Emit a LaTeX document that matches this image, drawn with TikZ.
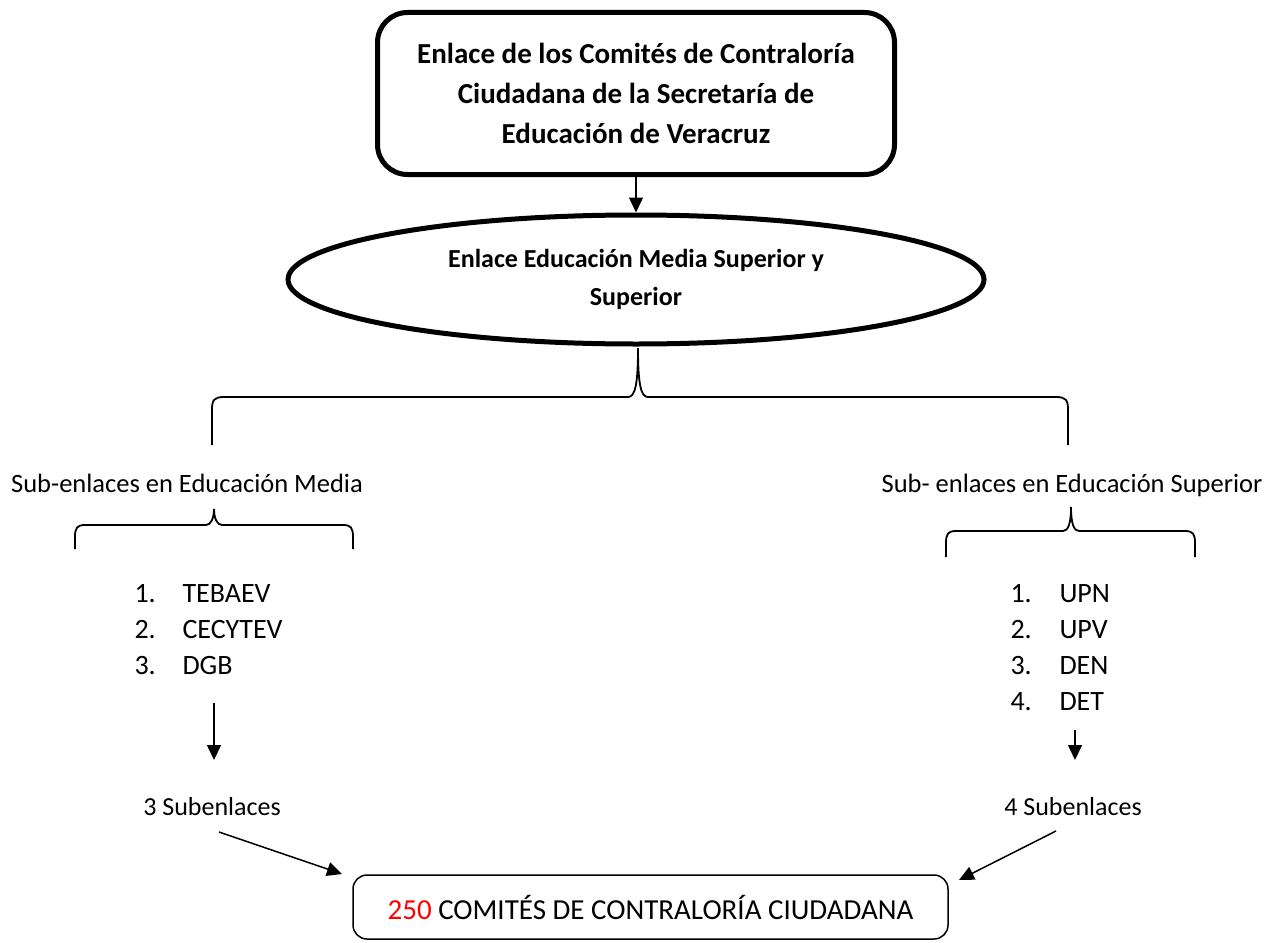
\documentclass[tikz,border=0pt]{standalone}
\usepackage{fontspec}
\setmainfont{Carlito}
\usetikzlibrary{shapes.geometric,arrows.meta}

\begin{document}
\begin{tikzpicture}[x=1pt,y=-1pt,
  arr/.style={line width=1.5pt,-{Triangle[length=15pt,width=14pt]}},
  brc/.style={line width=1.8pt},
  lbl/.style={font=\fontsize{26.5}{32}\selectfont,anchor=base},
  lst/.style={font=\fontsize{28}{36}\selectfont,align=left,anchor=west}]
  \useasboundingbox (0,0) rectangle (1271,942);
  % top of the chart
  \node[draw,line width=5pt,rounded corners=30pt,minimum width=517pt,minimum height=162pt,align=center,font=\bfseries\fontsize{29}{40}\selectfont] (top) at (636,93.5) {Enlace de los Comités de Contraloría\\Ciudadana de la Secretaría de\\Educación de Veracruz};
  \node[draw,ellipse,line width=5pt,minimum width=696pt,minimum height=129pt,inner sep=0pt,align=center,font=\bfseries\fontsize{26}{38}\selectfont] (ell) at (636,279.5) {Enlace Educación Media Superior y\\Superior};
  \draw[arr] (top.south) -- (ell.north);
  % big brace
  \draw[brc] (212,445) -- (212,410) .. controls (212,400) and (214,397) .. (224,397) -- (628,397) .. controls (635,397) and (638,385) .. (638,348) .. controls (638,385) and (641,397) .. (648,397) -- (1056,397) .. controls (1066,397) and (1068,400) .. (1068,410) -- (1068,445);
  % two branches
  \node[lbl] (media) at (187,492) {Sub-enlaces en Educación Media};
  \node[lbl] (sup) at (1072,492) {Sub- enlaces en Educación Superior};
  \draw[brc] (75,549) -- (75,537) .. controls (75,528) and (77,525) .. (85,525) -- (206,525) .. controls (211,525) and (214,518) .. (214,509) .. controls (214,518) and (217,525) .. (222,525) -- (343,525) .. controls (351,525) and (353,528) .. (353,537) -- (353,549);
  \draw[brc] (946,557) -- (946,543) .. controls (946,534) and (948,531) .. (956,531) -- (1063,531) .. controls (1068,531) and (1071,524) .. (1071,507) .. controls (1071,524) and (1074,531) .. (1079,531) -- (1185,531) .. controls (1193,531) and (1195,534) .. (1195,543) -- (1195,557);
  \node[lst] (lm) at (131,630) {\makebox[48pt][l]{1.}TEBAEV\\\makebox[48pt][l]{2.}CECYTEV\\\makebox[48pt][l]{3.}DGB};
  \node[lst] (ls) at (1007,648) {\makebox[49pt][l]{1.}UPN\\\makebox[49pt][l]{2.}UPV\\\makebox[49pt][l]{3.}DEN\\\makebox[49pt][l]{4.}DET};
  \coordinate (m1) at (214,703);
  \coordinate (m2) at (214,760);
  \coordinate (s1) at (1075,730);
  \coordinate (s2) at (1075,760);
  \draw[arr] (m1) -- (m2);
  \draw[arr] (s1) -- (s2);
  \node[lbl,font=\fontsize{26}{32}\selectfont] (sub3) at (212,815) {3 Subenlaces};
  \node[lbl,font=\fontsize{26}{32}\selectfont] (sub4) at (1073,815) {4 Subenlaces};
  % bottom box
  \node[draw,line width=1.5pt,rounded corners=14pt,minimum width=595pt,minimum height=64pt,font=\fontsize{29}{34}\selectfont] (com) at (650.5,907) {\textcolor{red}{250} COMITÉS DE CONTRALORÍA CIUDADANA};
  \coordinate (d1) at (219,832);
  \coordinate (d2) at (342,874);
  \coordinate (d3) at (1056,831);
  \coordinate (d4) at (959,880);
  \draw[arr] (d1) -- (d2);
  \draw[arr] (d3) -- (d4);
\end{tikzpicture}
\end{document}
